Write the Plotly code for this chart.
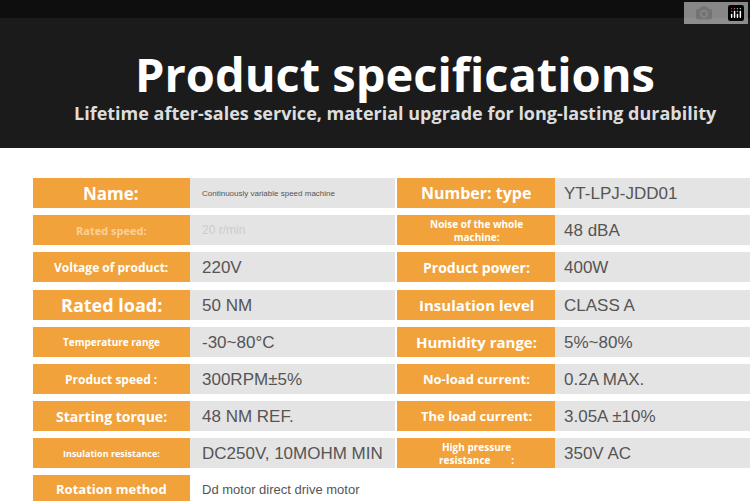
import plotly.graph_objects as go

left_labels = ["Name:", "Rated speed:", "Voltage of product:", "Rated load:", "Temperature range",
               "Product speed :", "Starting torque:", "Insulation resistance:", "Rotation method"]
left_sizes = [17, 11, 12, 18, 10, 12, 14, 9, 13]
left_values = ["Continuously variable speed machine", "20 r/min", "220V", "50 NM", "-30~80°C",
               "300RPM±5%", "48 NM REF.", "DC250V, 10MOHM MIN", "Dd motor direct drive motor"]
left_vsizes = [8, 12, 17, 17, 17, 17, 17, 17, 13]
right_labels = ["Number: type", "Noise of the whole<br>machine:", "Product power:", "Insulation level",
                "Humidity range:", "No-load current:", "The load current:", "High pressure<br>resistance        :"]
right_sizes = [16, 10, 14, 15, 15, 13, 13, 10]
right_values = ["YT-LPJ-JDD01", "48 dBA", "400W", "CLASS A", "5%~80%", "0.2A MAX.", "3.05A ±10%", "350V AC"]
row_tops = [178, 215, 252, 290, 327, 364, 401, 438, 475]

ORANGE = "#F2A23A"
GRAY = "#E4E4E4"
shapes, ann = [], []
shapes.append(dict(type="rect", x0=0, x1=750, y0=0, y1=148, fillcolor="#1b1b1b", line_width=0, layer="below"))
shapes.append(dict(type="rect", x0=0, x1=750, y0=0, y1=18, fillcolor="#0e0e0e", line_width=0, layer="below"))
ann.append(dict(x=395, y=74, text="<b>Product specifications</b>", showarrow=False,
                font=dict(size=47, color="white", family="Open Sans")))
ann.append(dict(x=395, y=113, text="<b>Lifetime after-sales service, material upgrade for long-lasting durability</b>",
                showarrow=False, font=dict(size=18, color="#dddddd", family="Open Sans")))

for i, t in enumerate(row_tops):
    b = min(t + 30, 501)
    c = t + 15 if i < 8 else 489
    shapes.append(dict(type="rect", x0=33, x1=190, y0=t, y1=b, fillcolor=ORANGE, line_width=0, layer="below"))
    ann.append(dict(x=111, y=c, text="<b>" + left_labels[i] + "</b>", showarrow=False,
                    font=dict(size=left_sizes[i], color="white" if i != 1 else "rgba(255,255,255,0.5)", family="Open Sans")))
    vx1 = 395 if i < 8 else 750
    shapes.append(dict(type="rect", x0=190, x1=vx1, y0=t, y1=b, fillcolor=GRAY if i != 8 else "#ffffff", line_width=0, layer="below"))
    ann.append(dict(x=200, y=c, xanchor="left", text=left_values[i], showarrow=False,
                    font=dict(size=left_vsizes[i], color="#555555" if i != 1 else "#cccccc", family="Liberation Sans")))
    if i < 8:
        shapes.append(dict(type="rect", x0=397, x1=555, y0=t, y1=b, fillcolor=ORANGE, line_width=0, layer="below"))
        ann.append(dict(x=476, y=c, text="<b>" + right_labels[i] + "</b>", showarrow=False,
                        font=dict(size=right_sizes[i], color="white", family="Open Sans")))
        shapes.append(dict(type="rect", x0=555, x1=750, y0=t, y1=b, fillcolor=GRAY, line_width=0, layer="below"))
        ann.append(dict(x=562, y=c, xanchor="left", text=right_values[i], showarrow=False,
                        font=dict(size=17, color="#555555", family="Liberation Sans")))

fig = go.Figure()
fig.update_layout(width=750, height=501, margin=dict(l=0, r=0, t=0, b=0),
                  paper_bgcolor="white", plot_bgcolor="white", shapes=shapes, annotations=ann,
                  xaxis=dict(range=[0, 750], visible=False, fixedrange=True),
                  yaxis=dict(range=[501, 0], visible=False, fixedrange=True), showlegend=False)
fig.write_html("out.html", post_script="document.body.style.margin='0';")
